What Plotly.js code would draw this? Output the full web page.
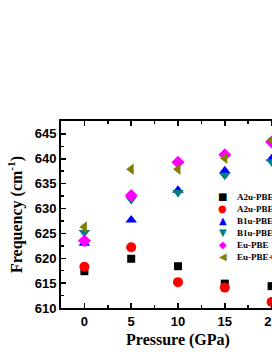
<!DOCTYPE html>
<html><head><meta charset="utf-8">
<script src="https://cdn.plot.ly/plotly-3.0.1.min.js"></script>
<style>html,body{margin:0;padding:0;overflow:hidden;background:#fff;width:272px;height:352px}</style>
</head><body><div id="chart"></div>
<script>
const pressure = [0, 5, 10, 15, 20];
const a2uPBE  = [617.4, 619.9, 618.4, 614.9, 614.4];
const a2uPBEU = [618.3, 622.2, 615.2, 614.1, 611.2];
const b1uPBE  = [623.0, 627.7, 633.7, 637.6, 640.0];
const b1uPBEU = [625.2, 631.8, 633.2, 636.7, 639.4];
const euPBE   = [623.5, 632.6, 639.3, 640.8, 643.4];
const euPBEU  = [626.3, 637.9, 637.9, 640.1, 643.8];
const names = ['A2u-PBE', 'A2u-PBE+U', 'B1u-PBE', 'B1u-PBE+U', 'Eu-PBE', 'Eu-PBE+U'];
const series = [a2uPBE, a2uPBEU, b1uPBE, b1uPBEU, euPBE, euPBEU];
const colors = ['#000000', '#ff0000', '#0000ff', '#008080', '#ff00ff', '#808000'];
const symbols = ['square', 'circle', 'triangle-up', 'triangle-down', 'diamond', 'triangle-left'];
const glyphs = ['\u25A0', '\u25CF', '\u25B2', '\u25BC', '\u25C6', '\u25C0'];
const sizes = [8, 10, 10, 10, 10, 10];

const traces = series.map((s, i) => ({
  x: pressure, y: s, type: 'scatter', mode: 'markers', name: names[i], showlegend: false,
  marker: {color: colors[i], symbol: symbols[i], size: sizes[i], line: {width: 0}}
}));

// compact legend (Plotly's native legend enforces a larger row height)
const legX = 0.692, legTextX = 0.744, legY0 = 0.594, legStep = 0.0642;
const annotations = [];
names.forEach((n, i) => {
  annotations.push({xref: 'paper', yref: 'paper', x: legX, y: legY0 - i * legStep,
    text: glyphs[i], showarrow: false, xanchor: 'center', yanchor: 'middle',
    font: {family: 'DejaVu Sans', size: 10, color: colors[i]}});
  annotations.push({xref: 'paper', yref: 'paper', x: legTextX, y: legY0 - i * legStep,
    text: n, showarrow: false, xanchor: 'left', yanchor: 'middle',
    font: {family: 'Liberation Serif, Times New Roman', size: 9, color: '#000', weight: 'bold'}});
});

const axisCommon = {
  showline: true, linecolor: '#000', linewidth: 2, mirror: 'ticks',
  ticks: 'inside', ticklen: 5, tickwidth: 1.5, tickcolor: '#000',
  showgrid: false, zeroline: false,
  tickfont: {family: 'Liberation Sans, Arial', size: 13, color: '#000', weight: 'bold'}
};

const layout = {
  width: 317, height: 352,
  margin: {l: 61, r: 22, t: 121, b: 44},
  paper_bgcolor: '#fff', plot_bgcolor: '#fff',
  showlegend: false,
  annotations: annotations,
  xaxis: Object.assign({}, axisCommon, {
    range: [-2.5, 22.5], tickvals: [0, 5, 10, 15, 20],
    minor: {ticks: 'inside', ticklen: 3, tickwidth: 1.5, tickcolor: '#000', dtick: 2.5, tick0: 0},
    title: {text: 'Pressure (GPa)', standoff: 6,
      font: {family: 'Liberation Serif, Times New Roman', size: 16, color: '#000', weight: 'bold'}}
  }),
  yaxis: Object.assign({}, axisCommon, {
    range: [610, 647.6], tickvals: [610, 615, 620, 625, 630, 635, 640, 645],
    minor: {ticks: 'inside', ticklen: 3, tickwidth: 1.5, tickcolor: '#000', dtick: 2.5, tick0: 610},
    title: {text: 'Frequency (cm<sup>-1</sup>)', standoff: 8,
      font: {family: 'Liberation Serif, Times New Roman', size: 16, color: '#000', weight: 'bold'}}
  })
};

Plotly.newPlot('chart', traces, layout, {displayModeBar: false, staticPlot: true});
</script></body></html>
